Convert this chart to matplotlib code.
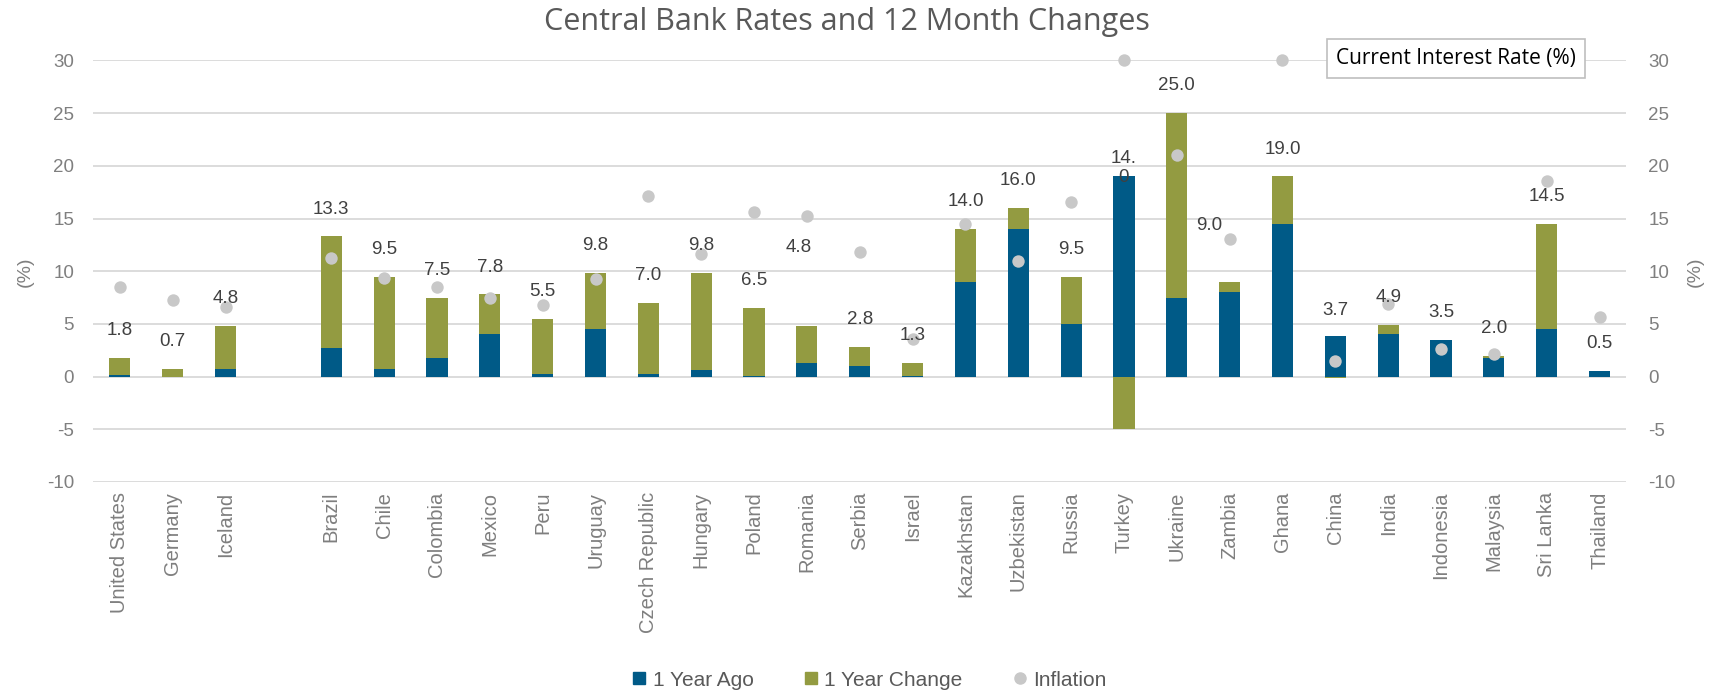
import matplotlib
matplotlib.use('Agg')

import numpy as np
import matplotlib.pyplot as plt
from matplotlib.lines import Line2D

plt.rcParams['font.family'] = ['Liberation Sans', 'DejaVu Sans']
plt.rcParams['axes.unicode_minus'] = False

# ===== DATA =====
countries = ["United States", "Germany", "Iceland", "Brazil", "Chile", "Colombia",
             "Mexico", "Peru", "Uruguay", "Czech Republic", "Hungary", "Poland",
             "Romania", "Serbia", "Israel", "Kazakhstan", "Uzbekistan", "Russia",
             "Turkey", "Ukraine", "Zambia", "Ghana", "China", "India", "Indonesia",
             "Malaysia", "Sri Lanka", "Thailand"]

# current policy rate (data label) and rate one year ago (%)
current = [1.8, 0.7, 4.8, 13.3, 9.5, 7.5, 7.8, 5.5, 9.8, 7.0, 9.8, 6.5,
           4.8, 2.8, 1.3, 14.0, 16.0, 9.5, 14.0, 25.0, 9.0, 19.0, 3.7, 4.9,
           3.5, 2.0, 14.5, 0.5]
year_ago = [0.15, 0.0, 0.75, 2.75, 0.75, 1.75, 4.0, 0.25, 4.5, 0.25, 0.6, 0.1,
            1.25, 1.0, 0.1, 9.0, 14.0, 5.0, 19.0, 7.5, 8.0, 14.5, 3.85, 4.0,
            3.5, 1.75, 4.5, 0.5]
inflation = [8.5, 7.3, 6.6, 11.3, 9.35, 8.5, 7.5, 6.8, 9.3, 17.1, 11.6, 15.6,
             15.2, 11.8, 3.6, 14.5, 11.0, 16.6, 30.0, 21.0, 13.1, 30.0, 1.5, 6.9,
             2.65, 2.15, 18.6, 5.7]

# labels that were moved / wrapped by hand in the original
label_shift = {"Romania": (-0.16, 4.85), "Zambia": (-0.39, 2.77), "Turkey": (0.0, 3.17)}
wrapped = ["Turkey"]

BLUE = '#005A87'
GREEN = '#939B41'
DOT = '#C8C8C8'
GRID = '#D9D9D9'
TICK = '#7F7F7F'

current = np.array(current)
year_ago = np.array(year_ago)
change = current - year_ago

# empty slot between Iceland and Brazil
xpos = np.array([i if i < 3 else i + 1 for i in range(len(countries))])

# ===== PLOT =====
fig = plt.figure(figsize=(17.25, 6.93), dpi=100)
ax = fig.add_axes([0.0542, 0.3045, 0.8884, 0.6082])

ax.bar(xpos, year_ago, width=0.4, color=BLUE, zorder=2)
ax.bar(xpos, change, bottom=np.where(change >= 0, year_ago, 0), width=0.4,
       color=GREEN, zorder=2)
ax.scatter(xpos, inflation, s=80, color=DOT, linewidths=0, zorder=4, clip_on=False)

for i, c in enumerate(countries):
    txt = f"{current[i]:.1f}"
    if c in wrapped:
        txt = txt.replace('.', '.\n')
    dx, dy = label_shift.get(c, (0.0, 0.0))
    ax.text(xpos[i] + dx, current[i] + 2.6 + dy, txt, ha='center', va='center',
            fontsize=13.5, color='#404040', linespacing=1.15, zorder=5)

ax.set_xlim(-0.5, 28.5)
ax.set_ylim(-10, 30)
ax.set_yticks(range(-10, 31, 5))
ax.set_xticks(xpos, countries, rotation=90, fontsize=14.5, color=TICK)
ax.tick_params(axis='x', length=0, pad=7)
ax.tick_params(axis='y', length=0, pad=14, labelsize=13.5, labelcolor=TICK)
ax.grid(axis='y', color=GRID, linewidth=1.3)
ax.set_axisbelow(True)

ax2 = ax.twinx()
ax2.set_ylim(-10, 30)
ax2.set_yticks(range(-10, 31, 5))
ax2.tick_params(axis='y', length=0, pad=16, labelsize=13.5, labelcolor=TICK)

for a in (ax, ax2):
    for s in a.spines.values():
        s.set_visible(False)

fig.text(25 / 1725, 0.6075, '(%)', rotation=90, ha='center', va='center',
         fontsize=14, color=TICK)
fig.text(1695 / 1725, 0.6075, '(%)', rotation=90, ha='center', va='center',
         fontsize=14, color=TICK)

fig.text(0.491, 1 - 22 / 693, 'Central Bank Rates and 12 Month Changes',
         ha='center', va='center', fontsize=22, color='#595959', family='Open Sans')

fig.text(0.844, 0.9156, 'Current Interest Rate (%)', ha='center', va='center',
         fontsize=15, color='black', family='Open Sans', zorder=6,
         bbox=dict(boxstyle='square,pad=0.45', facecolor='white',
                   edgecolor='#BFBFBF', linewidth=1.2))

handles = [
    Line2D([], [], marker='s', ls='none', color=BLUE, markersize=9),
    Line2D([], [], marker='s', ls='none', color=GREEN, markersize=9),
    Line2D([], [], marker='o', ls='none', color=DOT, markersize=8),
]
leg = fig.legend(handles, ['1 Year Ago', '1 Year Change', 'Inflation'],
                 loc='center', bbox_to_anchor=(0.504, 1 - 680 / 693), ncol=3,
                 frameon=False, fontsize=15, handlelength=0.7, handletextpad=0.3,
                 columnspacing=2.4, borderaxespad=0)
for t in leg.get_texts():
    t.set_color('#595959')

plt.savefig('out.png', dpi=100)
